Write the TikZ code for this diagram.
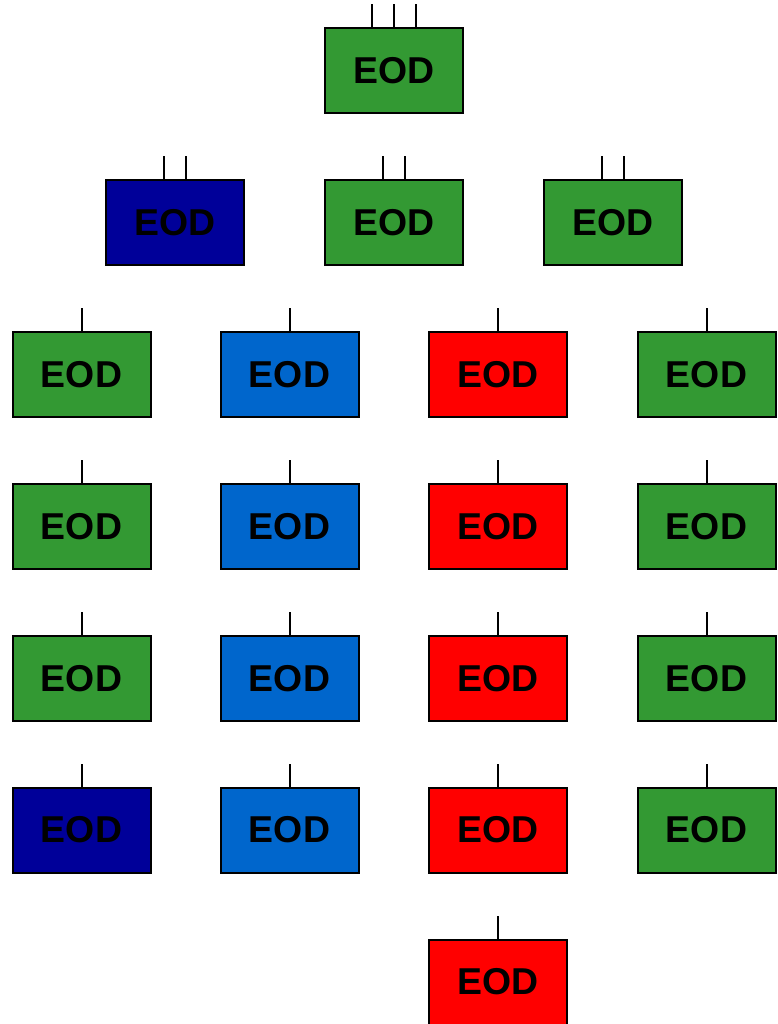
\documentclass[tikz,border=0pt]{standalone}
\usepackage{fontspec}
\setmainfont{Liberation Sans}
\usepackage{xcolor}
\definecolor{eodgreen}{HTML}{339933}
\definecolor{eoddark}{HTML}{000099}
\definecolor{eodblue}{HTML}{0066CC}
\definecolor{eodred}{HTML}{FF0000}
\tikzset{eod/.style={draw=black,line width=2pt,minimum width=138pt,minimum height=85pt,inner sep=0pt,
  font=\fontsize{37.4}{37.4}\selectfont\bfseries}}
\begin{document}
\begin{tikzpicture}[x=1pt,y=-1pt,line width=2pt]
\useasboundingbox (0,0) rectangle (778,1024);
% top box
\node[eod,fill=eodgreen] (top) at (394,70.5) {EOD};
\foreach \dx in {-22,0,22} \draw ([xshift=\dx pt]top.north) -- ++(0,-23);
% second row
\foreach \col/\x/\c in {1/175/eoddark,2/394/eodgreen,3/613/eodgreen}{
  \node[eod,fill=\c] (r2c\col) at (\x,222.5) {EOD};
  \foreach \dx in {-11,11} \draw ([xshift=\dx pt]r2c\col.north) -- ++(0,-23);
}
% grid
\foreach \col/\x/\ca/\cb/\cc/\cd in {1/81.5/eodgreen/eodgreen/eodgreen/eoddark,
    2/289.5/eodblue/eodblue/eodblue/eodblue,3/498/eodred/eodred/eodred/eodred,
    4/706.5/eodgreen/eodgreen/eodgreen/eodgreen}{
  \node[eod,fill=\ca] (r3c\col) at (\x,374.5) {EOD};
  \node[eod,fill=\cb] (r4c\col) at (\x,526.5) {EOD};
  \node[eod,fill=\cc] (r5c\col) at (\x,678.5) {EOD};
  \node[eod,fill=\cd] (r6c\col) at (\x,830) {EOD};
  \foreach \r in {3,4,5,6} \draw (r\r c\col.north) -- ++(0,-23);
}
\node[eod,fill=eodred] (r7c3) at (498,982) {EOD};
\draw (r7c3.north) -- ++(0,-23);
\end{tikzpicture}
\end{document}
